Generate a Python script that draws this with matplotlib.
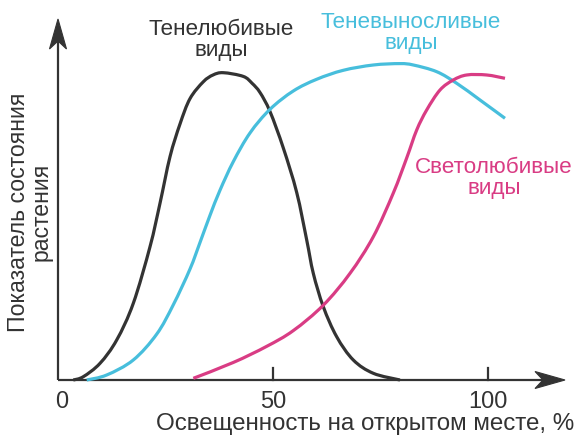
import matplotlib
matplotlib.use("Agg")
import matplotlib.pyplot as plt
from matplotlib.path import Path
from matplotlib.patches import PathPatch, Polygon

# ---- data (y in arbitrary units, axis top = 100) ----
shade_x = [3.56, 5.88, 9.77, 13.65, 17.51, 21.40, 23.72, 26.05, 28.37, 30.70, 33.79, 36.05, 38.44,
           43.09, 45.12, 46.98, 49.30, 52.40, 55.51, 57.84, 59.37, 61.70, 64.81, 68.67, 73.33, 79.53]
shade_y = [0.0, 0.92, 4.66, 11.17, 21.42, 37.24, 49.36, 62.39, 71.5, 78.6, 83.3, 85.2, 85.84,
           84.8, 82.9, 80.3, 75.0, 64.8, 52.4, 39.11, 29.80, 20.47, 12.09, 5.59, 1.87, 0.0]

tol_x = [6.67, 11.33, 17.51, 22.95, 26.81, 30.70, 33.02, 35.35, 37.67, 40.77, 44.65, 49.30, 54.72,
         60.16, 66.35, 73.33, 79.53, 82.63, 88.07, 92.72, 98.14, 103.95]
tol_y = [0.0, 1.40, 5.59, 12.8, 21.0, 31.0, 38.4, 46.0, 53.0, 61.0, 69.0, 75.61, 80.73,
         84.00, 86.51, 87.99, 88.38, 87.99, 86.12, 82.88, 78.21, 73.10]

light_x = [31.47, 40.77, 48.53, 54.72, 61.70, 67.91, 73.33, 77.98, 81.09, 83.42, 85.74, 88.84, 91.93,
           95.05, 99.70, 103.95]
light_y = [0.47, 4.9, 9.4, 13.8, 20.9, 29.80, 40.03, 52.23, 62.01, 69.83, 75.42, 81.01, 83.80,
           85.20, 85.20, 84.27]

xticks = [0, 50, 100]
xtick_labels = ["0", "50", "100"]
xlabel = "Освещенность на открытом месте, %"
ylabel = "Показатель состояния\nрастения"
lbl_shade = "Тенелюбивые\nвиды"
lbl_tol = "Теневыносливые\nвиды"
lbl_light = "Светолюбивые\nвиды"

# ---- styling ----
plt.rcParams['font.family'] = ['Liberation Sans', 'DejaVu Sans']
C_AX = "#333333"
C_SHADE = "#333333"
C_TOL = "#47BEDC"
C_LIGHT = "#D93C84"
FS_X = 17.4
FS_Y = 16.6
FS_TICK = 17
FS_LBL = 16.2

W, H = 577, 438
fig = plt.figure(figsize=(W / 100, H / 100), dpi=100)
ax = fig.add_axes([0, 0, 1, 1])

# pixel mapping: x=0 at px 58, 4.3 px/unit; y=0 at py 380, 3.58 px/unit
x0, sx = 58, 4.3
y0, sy = 380, 3.58
ax.set_xlim(-x0 / sx, (W - x0) / sx)
ax.set_ylim(-(H - y0) / sy, y0 / sy)
ax.axis("off")


def P(px, py):
    """pixel position -> data coordinates"""
    return ((px - x0) / sx, (y0 - py) / sy)


def smooth_curve(xs, ys, color):
    """Draw a smooth (Catmull-Rom -> cubic Bezier) curve through the given points."""
    pts = list(zip(xs, ys))
    n = len(pts)
    verts = [pts[0]]
    codes = [Path.MOVETO]
    for i in range(n - 1):
        p0 = pts[i - 1] if i > 0 else pts[i]
        p1 = pts[i]
        p2 = pts[i + 1]
        p3 = pts[i + 2] if i + 2 < n else pts[i + 1]
        c1 = (p1[0] + (p2[0] - p0[0]) / 6, p1[1] + (p2[1] - p0[1]) / 6)
        c2 = (p2[0] - (p3[0] - p1[0]) / 6, p2[1] - (p3[1] - p1[1]) / 6)
        verts += [c1, c2, p2]
        codes += [Path.CURVE4] * 3
    ax.add_patch(PathPatch(Path(verts, codes), fill=False, edgecolor=color, lw=2.3,
                           capstyle="butt", joinstyle="round", zorder=3))


smooth_curve(shade_x, shade_y, C_SHADE)
smooth_curve(tol_x, tol_y, C_TOL)
smooth_curve(light_x, light_y, C_LIGHT)

# axes lines
ax.plot([0, P(545, 0)[0]], [0, 0], color=C_AX, lw=1.6, zorder=2, solid_capstyle="butt")
ax.plot([0, 0], [0, P(0, 40)[1]], color=C_AX, lw=1.6, zorder=2, solid_capstyle="butt")
# notched arrowheads (pixel geometry)
L, HW, N = 30, 8.5, 22
ax.add_patch(Polygon([P(565, 380), P(565 - L, 380 - HW), P(565 - N, 380), P(565 - L, 380 + HW)],
                     closed=True, facecolor=C_AX, edgecolor=C_AX, lw=0.8, zorder=2))
ax.add_patch(Polygon([P(58, 19), P(58 - HW, 19 + L), P(58, 19 + N), P(58 + HW, 19 + L)],
                     closed=True, facecolor=C_AX, edgecolor=C_AX, lw=0.8, zorder=2))

# ticks and tick labels
for t, lab in zip(xticks, xtick_labels):
    if t != 0:
        ax.plot([t, t], [0, 12 / sy], color=C_AX, lw=1.6, zorder=2)
    ax.text(t + (4 / sx if t == 0 else 0), -(402 - y0) / sy, lab, ha="center", va="center",
            fontsize=FS_TICK, color=C_AX)

# axis titles
ax.text(*P(574, 424), xlabel, ha="right", va="center", fontsize=FS_X, color=C_AX)
ax.text(*P(30, 212), ylabel, ha="center", va="center", rotation=90,
        multialignment="center", fontsize=FS_Y, color=C_AX, linespacing=1.0)

# curve labels
ax.text(*P(221, 40), lbl_shade, ha="center", va="center", fontsize=FS_LBL,
        color=C_SHADE, linespacing=1.0)
ax.text(*P(411, 33), lbl_tol, ha="center", va="center", fontsize=FS_LBL,
        color=C_TOL, linespacing=1.0)
ax.text(*P(494, 178), lbl_light, ha="center", va="center", fontsize=FS_LBL,
        color=C_LIGHT, linespacing=1.0)

fig.savefig("out.png", dpi=100)
